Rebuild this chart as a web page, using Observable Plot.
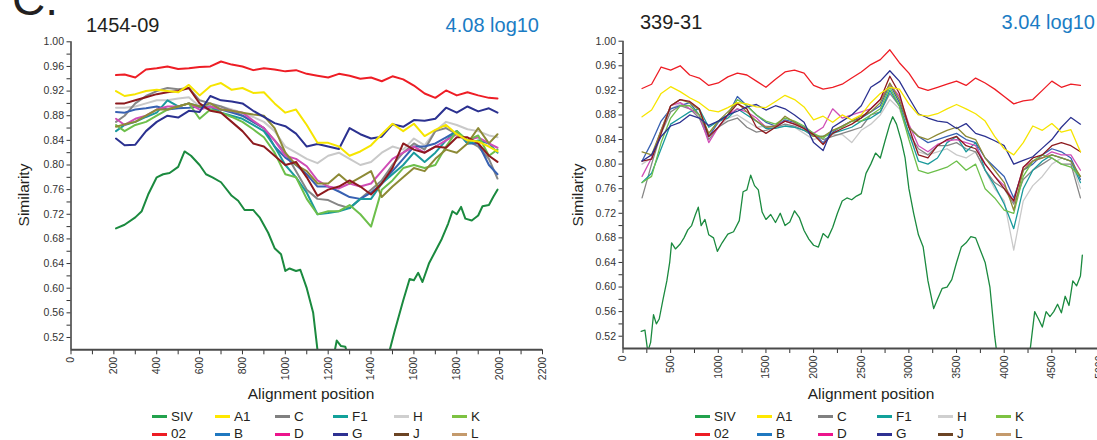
<!DOCTYPE html>
<html><head><meta charset="utf-8">
<script src="https://cdn.jsdelivr.net/npm/d3@7"></script>
<script src="https://cdn.jsdelivr.net/npm/@observablehq/plot@0.6"></script>
<style>
body{margin:0;background:#fff;}
#root{position:relative;width:1097px;height:440px;overflow:hidden;font-family:"Liberation Sans",Arial,sans-serif;color:#231f20;background:#fff;}
.abs{position:absolute;white-space:nowrap;line-height:1;}
.plot{position:absolute;top:0;}
</style></head><body><div id="root"></div>
<script>
// ---------------- DATA ----------------
const seriesNames = ["SIV","02","A1","B","C","D","F1","G","H","J","K","L"];
const panelTitles = ["1454-09","339-31"];
const panelLoads = ["4.08 log10","3.04 log10"];
const yTickLabels = [0.52,0.56,0.60,0.64,0.68,0.72,0.76,0.80,0.84,0.88,0.92,0.96,1.00];
const yMinorTicks = [0.54,0.58,0.62,0.66,0.70,0.74,0.78,0.82,0.86,0.90,0.94,0.98];
const leftXTicks = [0,200,400,600,800,1000,1200,1400,1600,1800,2000,2200];
const leftXMinor = [100,300,500,700,900,1100,1300,1500,1700,1900,2100];
const rightXTicks = [0,500,1000,1500,2000,2500,3000,3500,4000,4500,5000];
const rightXMinor = [250,750,1250,1750,2250,2750,3250,3750,4250,4750];

// Panel 1 (1454-09)
const leftX = [210,250,300,350,400,450,500,550,600,650,700,750,800,850,900,950,1000,1050,1100,1150,1200,1250,1300,1350,1400,1450,1500,1550,1600,1650,1700,1750,1800,1850,1900,1950,1990];
const left02 = [0.946,0.947,0.942,0.955,0.957,0.960,0.956,0.957,0.959,0.960,0.968,0.963,0.960,0.954,0.957,0.955,0.952,0.954,0.948,0.945,0.942,0.948,0.945,0.940,0.942,0.936,0.944,0.939,0.929,0.916,0.909,0.921,0.913,0.918,0.913,0.909,0.908];
const leftA1 = [0.920,0.912,0.915,0.920,0.922,0.920,0.918,0.930,0.913,0.928,0.933,0.922,0.925,0.917,0.918,0.900,0.885,0.890,0.865,0.836,0.836,0.830,0.815,0.822,0.832,0.850,0.867,0.855,0.867,0.847,0.857,0.865,0.850,0.840,0.838,0.830,0.822];
const leftB = [0.886,0.885,0.890,0.892,0.895,0.890,0.892,0.893,0.895,0.890,0.890,0.885,0.880,0.870,0.860,0.830,0.812,0.800,0.785,0.765,0.765,0.757,0.748,0.745,0.755,0.770,0.790,0.810,0.830,0.830,0.835,0.845,0.855,0.835,0.835,0.800,0.785];
const leftC = [0.870,0.880,0.900,0.912,0.920,0.925,0.923,0.925,0.905,0.900,0.895,0.888,0.880,0.870,0.860,0.840,0.820,0.790,0.760,0.745,0.743,0.735,0.730,0.745,0.760,0.775,0.800,0.820,0.835,0.825,0.855,0.860,0.850,0.840,0.830,0.810,0.778];
const leftD = [0.875,0.865,0.875,0.880,0.890,0.895,0.895,0.900,0.890,0.895,0.890,0.888,0.885,0.872,0.860,0.840,0.815,0.810,0.798,0.775,0.765,0.762,0.770,0.765,0.770,0.790,0.810,0.820,0.830,0.820,0.830,0.840,0.850,0.840,0.845,0.835,0.828];
const leftF1 = [0.855,0.865,0.870,0.878,0.885,0.905,0.895,0.900,0.895,0.895,0.885,0.880,0.875,0.865,0.855,0.830,0.800,0.780,0.755,0.720,0.722,0.725,0.730,0.745,0.745,0.770,0.785,0.800,0.820,0.805,0.820,0.840,0.855,0.835,0.840,0.835,0.820];
const leftG = [0.843,0.832,0.833,0.855,0.870,0.880,0.877,0.888,0.886,0.912,0.905,0.903,0.900,0.888,0.878,0.868,0.863,0.851,0.830,0.834,0.830,0.826,0.860,0.850,0.843,0.846,0.866,0.862,0.873,0.872,0.875,0.893,0.885,0.895,0.887,0.892,0.885];
const leftH = [0.893,0.893,0.895,0.900,0.905,0.905,0.908,0.910,0.895,0.895,0.895,0.890,0.885,0.878,0.870,0.855,0.830,0.820,0.810,0.803,0.815,0.820,0.810,0.800,0.805,0.820,0.830,0.825,0.843,0.832,0.855,0.870,0.865,0.858,0.855,0.848,0.845];
const leftJ = [0.900,0.900,0.905,0.910,0.915,0.918,0.920,0.925,0.900,0.888,0.885,0.870,0.855,0.835,0.830,0.815,0.800,0.805,0.780,0.750,0.760,0.765,0.775,0.765,0.752,0.770,0.795,0.835,0.825,0.820,0.830,0.828,0.845,0.845,0.835,0.815,0.805];
const leftK = [0.865,0.855,0.865,0.870,0.880,0.890,0.895,0.900,0.875,0.890,0.885,0.878,0.870,0.858,0.845,0.820,0.785,0.780,0.745,0.720,0.725,0.725,0.735,0.720,0.700,0.760,0.775,0.795,0.800,0.795,0.800,0.830,0.855,0.840,0.848,0.815,0.825];
const leftL = [0.862,0.866,0.870,0.880,0.890,0.890,0.895,0.900,0.895,0.900,0.890,0.888,0.885,0.882,0.880,0.860,0.820,0.800,0.790,0.770,0.770,0.785,0.770,0.780,0.790,0.748,0.765,0.780,0.795,0.790,0.810,0.825,0.820,0.835,0.860,0.835,0.850];
const leftSIVx = [210,250,300,330,360,400,430,460,500,530,560,600,630,660,700,750,780,810,850,880,920,950,980,1000,1020,1050,1070,1100,1130,1150,1180,1220,1240,1260,1280,1300,1400,1480,1510,1550,1580,1600,1620,1640,1670,1700,1730,1760,1780,1800,1820,1840,1870,1900,1920,1950,1970,1990];
const leftSIVy = [0.697,0.703,0.715,0.725,0.752,0.780,0.785,0.787,0.797,0.822,0.815,0.800,0.785,0.780,0.772,0.750,0.742,0.727,0.727,0.715,0.690,0.665,0.655,0.628,0.632,0.628,0.630,0.600,0.560,0.500,0.470,0.480,0.515,0.506,0.505,0.480,0.450,0.490,0.530,0.580,0.615,0.613,0.625,0.610,0.640,0.660,0.680,0.705,0.725,0.720,0.732,0.713,0.710,0.718,0.733,0.735,0.748,0.760];

// Panel 2 (339-31)
const rightX = [200,300,400,500,600,700,800,900,1000,1100,1200,1300,1400,1500,1600,1700,1800,1900,2000,2100,2200,2300,2400,2500,2600,2700,2800,2900,3000,3100,3200,3300,3400,3500,3600,3700,3800,3900,4000,4100,4200,4300,4400,4500,4600,4700,4800];
const right02 = [0.923,0.930,0.958,0.953,0.960,0.945,0.940,0.928,0.932,0.942,0.948,0.945,0.935,0.925,0.938,0.950,0.953,0.948,0.928,0.922,0.925,0.930,0.940,0.950,0.962,0.970,0.986,0.965,0.948,0.925,0.920,0.925,0.930,0.935,0.928,0.940,0.932,0.922,0.910,0.898,0.903,0.905,0.920,0.935,0.925,0.930,0.928];
const rightA1 = [0.877,0.888,0.915,0.926,0.918,0.908,0.900,0.888,0.885,0.892,0.900,0.898,0.893,0.892,0.902,0.912,0.905,0.893,0.872,0.878,0.868,0.880,0.872,0.880,0.900,0.915,0.925,0.922,0.898,0.880,0.878,0.882,0.890,0.897,0.890,0.882,0.870,0.845,0.825,0.815,0.835,0.862,0.855,0.866,0.852,0.856,0.820];
const rightB = [0.805,0.835,0.870,0.890,0.895,0.900,0.880,0.845,0.868,0.880,0.910,0.895,0.880,0.868,0.862,0.872,0.868,0.860,0.850,0.835,0.852,0.862,0.870,0.875,0.885,0.895,0.930,0.900,0.860,0.845,0.835,0.840,0.845,0.850,0.840,0.835,0.810,0.795,0.780,0.745,0.790,0.800,0.815,0.825,0.820,0.810,0.775];
const rightC = [0.745,0.800,0.850,0.885,0.895,0.890,0.875,0.840,0.860,0.870,0.875,0.860,0.852,0.855,0.860,0.865,0.862,0.855,0.848,0.840,0.845,0.850,0.855,0.860,0.880,0.885,0.915,0.895,0.850,0.825,0.815,0.830,0.830,0.835,0.825,0.820,0.790,0.770,0.760,0.735,0.775,0.790,0.800,0.810,0.800,0.800,0.745];
const rightD = [0.780,0.810,0.855,0.895,0.900,0.890,0.880,0.835,0.860,0.880,0.890,0.885,0.875,0.860,0.862,0.870,0.865,0.858,0.850,0.860,0.890,0.875,0.880,0.885,0.890,0.905,0.930,0.910,0.865,0.830,0.820,0.832,0.838,0.840,0.835,0.830,0.800,0.780,0.765,0.740,0.795,0.805,0.810,0.820,0.815,0.815,0.790];
const rightF1 = [0.770,0.785,0.825,0.865,0.875,0.885,0.890,0.860,0.870,0.875,0.890,0.880,0.870,0.858,0.858,0.862,0.860,0.855,0.845,0.845,0.850,0.855,0.860,0.870,0.875,0.885,0.920,0.895,0.850,0.805,0.800,0.810,0.835,0.845,0.820,0.835,0.790,0.765,0.735,0.695,0.760,0.790,0.805,0.815,0.810,0.805,0.770];
const rightG = [0.805,0.815,0.845,0.862,0.868,0.880,0.875,0.863,0.870,0.880,0.886,0.893,0.897,0.888,0.895,0.890,0.880,0.868,0.835,0.822,0.860,0.870,0.880,0.895,0.925,0.935,0.952,0.935,0.908,0.882,0.875,0.870,0.868,0.858,0.866,0.850,0.845,0.838,0.830,0.800,0.806,0.812,0.826,0.840,0.860,0.876,0.865];
const rightH = [0.800,0.810,0.855,0.890,0.898,0.895,0.880,0.845,0.860,0.875,0.880,0.870,0.860,0.862,0.860,0.862,0.860,0.850,0.840,0.845,0.848,0.848,0.835,0.855,0.865,0.880,0.905,0.890,0.845,0.820,0.815,0.820,0.825,0.815,0.810,0.820,0.790,0.760,0.740,0.660,0.740,0.765,0.780,0.800,0.810,0.805,0.760];
const rightJ = [0.805,0.808,0.850,0.895,0.905,0.902,0.890,0.845,0.860,0.880,0.898,0.890,0.860,0.850,0.860,0.870,0.865,0.858,0.848,0.832,0.850,0.858,0.865,0.875,0.890,0.905,0.943,0.915,0.860,0.815,0.810,0.830,0.840,0.845,0.830,0.825,0.800,0.780,0.760,0.740,0.795,0.810,0.815,0.830,0.835,0.830,0.820];
const rightK = [0.770,0.780,0.835,0.875,0.895,0.895,0.880,0.850,0.870,0.880,0.905,0.895,0.880,0.870,0.865,0.875,0.870,0.862,0.850,0.842,0.855,0.860,0.870,0.870,0.880,0.890,0.925,0.895,0.840,0.790,0.785,0.790,0.795,0.805,0.790,0.800,0.760,0.745,0.725,0.720,0.780,0.805,0.815,0.810,0.800,0.795,0.780];
const rightL = [0.820,0.815,0.855,0.895,0.905,0.900,0.888,0.850,0.870,0.885,0.900,0.885,0.870,0.860,0.862,0.878,0.868,0.858,0.845,0.845,0.855,0.862,0.870,0.878,0.885,0.900,0.932,0.905,0.860,0.845,0.840,0.848,0.855,0.860,0.845,0.840,0.810,0.790,0.770,0.725,0.790,0.805,0.810,0.815,0.810,0.805,0.780];
const rightSIVx = [190,230,260,290,320,350,380,420,460,490,510,550,600,640,680,720,760,790,820,860,900,950,990,1040,1100,1160,1220,1260,1300,1340,1380,1420,1460,1500,1550,1600,1650,1700,1750,1800,1850,1900,1950,2000,2050,2100,2150,2200,2250,2300,2350,2400,2450,2500,2550,2600,2650,2700,2750,2800,2830,2870,2920,2960,3000,3050,3100,3150,3200,3260,3300,3350,3400,3450,3500,3550,3600,3650,3700,3750,3800,3850,3900,3950,4050,4200,4270,4320,4360,4400,4440,4480,4520,4560,4600,4640,4680,4720,4760,4800,4820];
const rightSIVy = [0.528,0.530,0.495,0.510,0.555,0.540,0.548,0.580,0.610,0.640,0.672,0.662,0.670,0.680,0.693,0.700,0.718,0.730,0.700,0.710,0.685,0.680,0.658,0.672,0.686,0.690,0.708,0.755,0.758,0.782,0.765,0.758,0.722,0.710,0.718,0.705,0.720,0.700,0.706,0.724,0.713,0.692,0.678,0.668,0.665,0.687,0.680,0.697,0.720,0.740,0.745,0.742,0.748,0.752,0.785,0.800,0.818,0.810,0.838,0.865,0.877,0.865,0.838,0.810,0.760,0.720,0.685,0.665,0.610,0.565,0.580,0.598,0.600,0.612,0.640,0.665,0.672,0.682,0.680,0.660,0.640,0.600,0.520,0.460,0.400,0.420,0.495,0.560,0.548,0.535,0.560,0.552,0.560,0.572,0.558,0.585,0.570,0.610,0.602,0.618,0.652];

const legendRow1 = ["SIV","A1","C","F1","H","K"];
const legendRow2 = ["02","B","D","G","J","L"];

// ---------------- STYLES ----------------
const lineColors = {SIV:"#1b8a3f","02":"#ee1d25",A1:"#f6e500",B:"#3861b2",C:"#868686",D:"#d04db6",F1:"#1a9a9c",G:"#2b3190",H:"#c9c9c9",J:"#8d1a1e",K:"#6dbf4b",L:"#8d8a36"};
const legendColors = {SIV:"#22a24d","02":"#ed1c24",A1:"#ffe800",B:"#1f78c0",C:"#808080",D:"#ec148c",F1:"#12a19a",G:"#2e3192",H:"#cfcfcf",J:"#6b4424",K:"#7dc242",L:"#c49a6c"};
const drawOrder = ["SIV","H","C","B","F1","D","K","L","J","G","A1","02"];
const FONT = "'Liberation Sans', Arial, sans-serif";

function buildRows(xs, valuesBySeries, sivX, sivY) {
  const rows = [];
  for (const name of seriesNames) {
    if (name === "SIV") {
      sivX.forEach((x, i) => rows.push({series: name, x, y: sivY[i]}));
    } else {
      const vals = valuesBySeries[name];
      xs.forEach((x, i) => rows.push({series: name, x, y: vals[i]}));
    }
  }
  return rows;
}

const leftRows = buildRows(leftX, {"02":left02,A1:leftA1,B:leftB,C:leftC,D:leftD,F1:leftF1,G:leftG,H:leftH,J:leftJ,K:leftK,L:leftL}, leftSIVx, leftSIVy);
const rightRows = buildRows(rightX, {"02":right02,A1:rightA1,B:rightB,C:rightC,D:rightD,F1:rightF1,G:rightG,H:rightH,J:rightJ,K:rightK,L:rightL}, rightSIVx, rightSIVy);

function panel(rows, o) {
  const lines = drawOrder.map(name => Plot.line(rows.filter(d => d.series === name), {
    x: "x", y: "y", stroke: lineColors[name], strokeWidth: o.sw, clip: true, strokeLinejoin: "round"
  }));
  return Plot.plot({
    width: o.width, height: 440,
    marginLeft: o.ml, marginRight: o.mr, marginTop: o.mt, marginBottom: 440 - o.axisY,
    style: {fontFamily: FONT, fontSize: "10.5px", color: "#333", background: "transparent", overflow: "visible"},
    x: {domain: [0, o.xmax]},
    y: {domain: [0.5, 1.0]},
    marks: [
      ...lines,
      Plot.axisY({ticks: yMinorTicks, tickSize: 4, tickFormat: () => "", label: null}),
      Plot.axisY({ticks: yTickLabels, tickSize: 4, tickPadding: 3, tickFormat: d3.format(".2f"), label: null}),
      Plot.axisX({ticks: o.xMajor, tickSize: 5, tickPadding: 2, tickRotate: -90, tickFormat: d => String(d), label: null}),
      Plot.axisX({ticks: o.xMinor, tickSize: 5, tickFormat: () => "", label: null}),
      Plot.ruleX([0], {stroke: "#3a3a3a", strokeWidth: 1.5}),
      Plot.ruleY([0.5], {stroke: "#4a4a4a", strokeWidth: 2})
    ]
  });
}

const root = document.getElementById("root");

const p1 = panel(leftRows, {width: 548, ml: 70.5, mr: 6, mt: 41.3, axisY: 349.3, xmax: 2200, xMajor: leftXTicks, xMinor: leftXMinor, sw: 2});
p1.classList.add("plot"); p1.style.left = "0px";
root.appendChild(p1);

const p2 = panel(rightRows, {width: 551, ml: 74.5, mr: 0, mt: 40.7, axisY: 348, xmax: 5000, xMajor: rightXTicks, xMinor: rightXMinor, sw: 1.3});
p2.classList.add("plot"); p2.style.left = "548px";
root.appendChild(p2);

function addText(txt, css) {
  const d = document.createElement("div");
  d.className = "abs";
  d.textContent = txt;
  Object.assign(d.style, css);
  root.appendChild(d);
  return d;
}

// big panel letter, mostly cut off at the top (as in the reference)
addText("C.", {left: "12px", top: "-24px", fontSize: "46px", color: "#231f20"});

// titles
addText(panelTitles[0], {left: "86px", top: "15.4px", fontSize: "20px", color: "#231f20"});
addText(panelLoads[0], {right: (1097 - 539) + "px", top: "15.4px", fontSize: "20px", color: "#1b7cc4"});
addText(panelTitles[1], {left: "640px", top: "12.4px", fontSize: "20px", color: "#231f20"});
addText(panelLoads[1], {right: "2px", top: "12.4px", fontSize: "20px", color: "#1b7cc4"});

// axis titles
[23.5, 578].forEach(cx => addText("Similarity", {left: cx + "px", top: "195px", fontSize: "15.5px", color: "#231f20", transform: "translate(-50%,-50%) rotate(-90deg)"}));
[311, 871].forEach(cx => addText("Alignment position", {left: cx + "px", top: "393.5px", fontSize: "15.5px", color: "#231f20", transform: "translate(-50%,-50%)"}));

// legends
const legendCols = [[152,215,275,333,394,452],[695,757,818,877,938,996]];
const legendRowsY = [416.5, 434];
legendCols.forEach(cols => {
  [legendRow1, legendRow2].forEach((row, r) => {
    row.forEach((name, c) => {
      const sw = document.createElement("div");
      sw.className = "abs";
      Object.assign(sw.style, {left: cols[c] + "px", top: (legendRowsY[r] - 1.5) + "px", width: "15px", height: "3px", background: legendColors[name]});
      root.appendChild(sw);
      addText(name, {left: (cols[c] + 19) + "px", top: legendRowsY[r] + "px", fontSize: "13.5px", color: "#231f20", transform: "translateY(-50%)"});
    });
  });
});
</script>
</body></html>
